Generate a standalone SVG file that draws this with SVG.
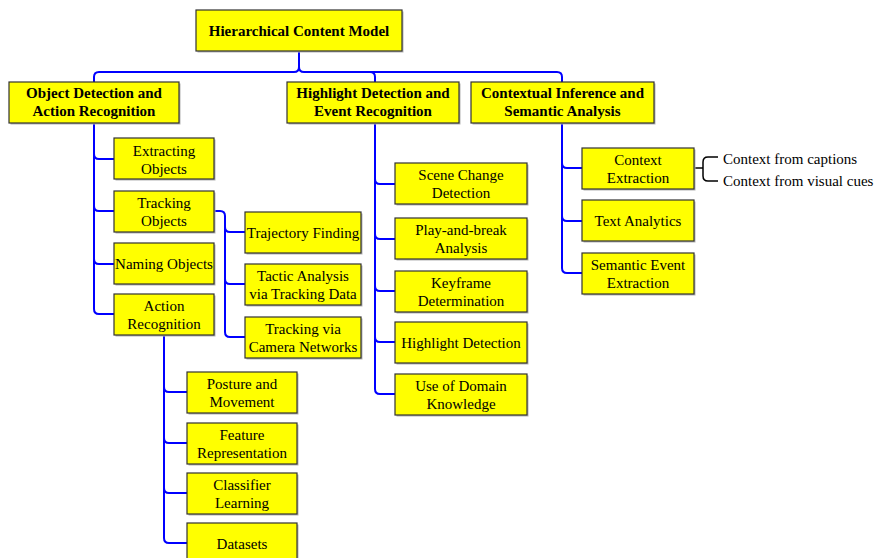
<svg xmlns="http://www.w3.org/2000/svg" width="874" height="558" viewBox="0 0 874 558">
<style>
.n rect.s{fill:#b4b4b4}
.n rect.b{fill:#ffff00;stroke:#333333;stroke-width:1.2}
.n text{font-family:"Liberation Serif","Times New Roman",serif;font-size:15px;fill:#000;text-anchor:middle}
.n.h text{font-weight:bold}
#conn path{fill:none;stroke:#0000ff;stroke-width:2}
#brace path{fill:none;stroke:#000;stroke-width:1.5}
.lbl{font-family:"Liberation Serif","Times New Roman",serif;font-size:15px;fill:#000}
</style>
<rect width="874" height="558" fill="#fff"/>
<g id="conn">
<path d="M299 51 V67 Q299 72 294 72 H99 Q94 72 94 77 V82"/>
<path d="M299 67 Q299 72 304 72 H557 Q562 72 562 77 V82"/>
<path d="M370 72 Q375 72 375 77 V82"/>
<path d="M94 123 V309 Q94 314 99 314 H114"/>
<path d="M94 154 Q94 159 99 159 H114"/>
<path d="M94 206 Q94 211 99 211 H114"/>
<path d="M94 259 Q94 264 99 264 H114"/>
<path d="M214 211 H220 Q225 211 225 216 V332 Q225 337 230 337 H245"/>
<path d="M225 227 Q225 232 230 232 H245"/>
<path d="M225 279 Q225 284 230 284 H245"/>
<path d="M164 335 V538 Q164 543 169 543 H187"/>
<path d="M164 387 Q164 392 169 392 H187"/>
<path d="M164 438 Q164 443 169 443 H187"/>
<path d="M164 488 Q164 493 169 493 H187"/>
<path d="M375 123 V389 Q375 394 380 394 H395"/>
<path d="M375 179 Q375 184 380 184 H395"/>
<path d="M375 234 Q375 239 380 239 H395"/>
<path d="M375 286 Q375 291 380 291 H395"/>
<path d="M375 337 Q375 342 380 342 H395"/>
<path d="M562 123 V268 Q562 273 567 273 H582"/>
<path d="M562 163 Q562 168 567 168 H582"/>
<path d="M562 216 Q562 221 567 221 H582"/>
</g>
<g id="brace">
<path d="M694 168 H703"/>
<path d="M718 157 H708 Q703 157 703 162 V176 Q703 181 708 181 H718"/>
</g>
<g id="root" class="n h"><rect class="s" x="197.5" y="11.5" width="206" height="41"/><rect class="b" x="196" y="10" width="206" height="41"/><text x="299" y="36">Hierarchical Content Model</text></g>
<g id="odar" class="n h"><rect class="s" x="10.5" y="83.5" width="170" height="41"/><rect class="b" x="9" y="82" width="170" height="41"/><text x="94" y="98">Object Detection and</text><text x="94" y="116">Action Recognition</text></g>
<g id="hder" class="n h"><rect class="s" x="288.5" y="83.5" width="172" height="41"/><rect class="b" x="287" y="82" width="172" height="41"/><text x="373" y="98">Highlight Detection and</text><text x="373" y="116">Event Recognition</text></g>
<g id="cisa" class="n h"><rect class="s" x="472.5" y="83.5" width="183" height="41"/><rect class="b" x="471" y="82" width="183" height="41"/><text x="562.5" y="98">Contextual Inference and</text><text x="562.5" y="116">Semantic Analysis</text></g>
<g id="extract" class="n"><rect class="s" x="115.5" y="139.5" width="100" height="41"/><rect class="b" x="114" y="138" width="100" height="41"/><text x="164" y="155.5">Extracting</text><text x="164" y="173.5">Objects</text></g>
<g id="tracking" class="n"><rect class="s" x="115.5" y="192.5" width="100" height="41"/><rect class="b" x="114" y="191" width="100" height="41"/><text x="164" y="207.5">Tracking</text><text x="164" y="225.5">Objects</text></g>
<g id="naming" class="n"><rect class="s" x="115.5" y="244.5" width="100" height="41"/><rect class="b" x="114" y="243" width="100" height="41"/><text x="164" y="269">Naming Objects</text></g>
<g id="action" class="n"><rect class="s" x="115.5" y="295.5" width="100" height="41"/><rect class="b" x="114" y="294" width="100" height="41"/><text x="164" y="310.5">Action</text><text x="164" y="328.5">Recognition</text></g>
<g id="traj" class="n"><rect class="s" x="246.5" y="213.5" width="116" height="41"/><rect class="b" x="245" y="212" width="116" height="41"/><text x="303" y="237.5">Trajectory Finding</text></g>
<g id="tactic" class="n"><rect class="s" x="246.5" y="265.5" width="116" height="41"/><rect class="b" x="245" y="264" width="116" height="41"/><text x="303" y="280.5">Tactic Analysis</text><text x="303" y="298.5">via Tracking Data</text></g>
<g id="camnet" class="n"><rect class="s" x="246.5" y="318.5" width="116" height="41"/><rect class="b" x="245" y="317" width="116" height="41"/><text x="303" y="333.5">Tracking via</text><text x="303" y="351.5">Camera Networks</text></g>
<g id="posture" class="n"><rect class="s" x="188.5" y="373.5" width="110" height="41"/><rect class="b" x="187" y="372" width="110" height="41"/><text x="242" y="388.5">Posture and</text><text x="242" y="406.5">Movement</text></g>
<g id="feature" class="n"><rect class="s" x="188.5" y="424.5" width="110" height="41"/><rect class="b" x="187" y="423" width="110" height="41"/><text x="242" y="439.5">Feature</text><text x="242" y="457.5">Representation</text></g>
<g id="classifier" class="n"><rect class="s" x="188.5" y="474.5" width="110" height="41"/><rect class="b" x="187" y="473" width="110" height="41"/><text x="242" y="489.5">Classifier</text><text x="242" y="507.5">Learning</text></g>
<g id="datasets" class="n"><rect class="s" x="188.5" y="524.5" width="110" height="41"/><rect class="b" x="187" y="523" width="110" height="41"/><text x="242" y="548.5">Datasets</text></g>
<g id="scene" class="n"><rect class="s" x="396.5" y="164.5" width="132" height="41"/><rect class="b" x="395" y="163" width="132" height="41"/><text x="461" y="180">Scene Change</text><text x="461" y="198">Detection</text></g>
<g id="play" class="n"><rect class="s" x="396.5" y="219.5" width="132" height="41"/><rect class="b" x="395" y="218" width="132" height="41"/><text x="461" y="235">Play-and-break</text><text x="461" y="253">Analysis</text></g>
<g id="keyframe" class="n"><rect class="s" x="396.5" y="272.5" width="132" height="41"/><rect class="b" x="395" y="271" width="132" height="41"/><text x="461" y="287.5">Keyframe</text><text x="461" y="305.5">Determination</text></g>
<g id="highlight" class="n"><rect class="s" x="396.5" y="323.5" width="132" height="41"/><rect class="b" x="395" y="322" width="132" height="41"/><text x="461" y="347.5">Highlight Detection</text></g>
<g id="domain" class="n"><rect class="s" x="396.5" y="375.5" width="132" height="41"/><rect class="b" x="395" y="374" width="132" height="41"/><text x="461" y="390.5">Use of Domain</text><text x="461" y="408.5">Knowledge</text></g>
<g id="context" class="n"><rect class="s" x="583.5" y="149.5" width="112" height="41"/><rect class="b" x="582" y="148" width="112" height="41"/><text x="638" y="164.5">Context</text><text x="638" y="182.5">Extraction</text></g>
<g id="text" class="n"><rect class="s" x="583.5" y="201.5" width="112" height="41"/><rect class="b" x="582" y="200" width="112" height="41"/><text x="638" y="226">Text Analytics</text></g>
<g id="semantic" class="n"><rect class="s" x="583.5" y="254.5" width="112" height="41"/><rect class="b" x="582" y="253" width="112" height="41"/><text x="638" y="269.5">Semantic Event</text><text x="638" y="287.5">Extraction</text></g>
<g id="ctxlabels">
<text class="lbl" x="723" y="164">Context from captions</text>
<text class="lbl" x="723" y="185.5">Context from visual cues</text>
</g>
</svg>
